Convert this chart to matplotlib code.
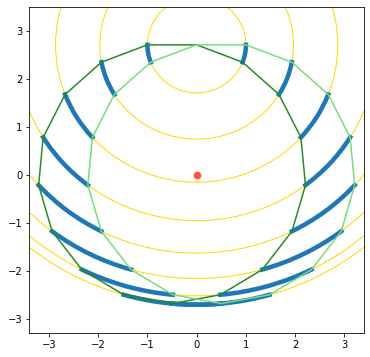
import matplotlib
matplotlib.use("Agg")
import matplotlib.pyplot as plt
from matplotlib.patches import Circle, Arc

# pivot (top vertex) of the 17-gon and the circles drawn around it
pivot = (0.0, 2.721)
ring_radii = [1.0, 1.966, 2.865, 3.666, 4.343, 4.872, 5.234, 5.419]

# polygon rolled one way (dark) and the other way (light)
dark_x = [0.0, 0.932, 1.672, 2.117, 2.210, 1.936, 1.333, 0.483, -0.500,
          -1.483, -2.333, -2.936, -3.209, -3.117, -2.672, -1.932, -1.000]
dark_y = [2.721, 2.360, 1.686, 0.791, -0.205, -1.167, -1.965, -2.491, -2.675,
          -2.491, -1.965, -1.167, -0.205, 0.791, 1.686, 2.360, 2.721]
light_x = [0.0, 1.000, 1.932, 2.672, 3.117, 3.209, 2.936, 2.333, 1.483,
           0.500, -0.483, -1.333, -1.936, -2.210, -2.117, -1.672, -0.932]
light_y = [2.721, 2.721, 2.360, 1.686, 0.791, -0.205, -1.167, -1.965, -2.491,
           -2.675, -2.491, -1.965, -1.167, -0.205, 0.791, 1.686, 2.360]

# paths of the vertices while rocking on the pivot (degrees)
arc_r = [1.0, 1.966, 2.865, 3.666, 4.343, 4.872, 5.234, 5.419,
         5.419, 5.234, 4.872, 4.343, 3.666, 2.865, 1.966, 1.0]
arc_t1 = [-21.18, -31.76, -42.35, -52.94, -63.53, -74.12, -84.71, -95.29,
          -105.88, -116.47, -127.06, -137.65, -148.24, -158.82, -169.41, -180.0]
arc_t2 = [0.0, -10.59, -21.18, -31.76, -42.35, -52.94, -63.53, -74.12,
          -84.71, -95.29, -105.88, -116.47, -127.06, -137.65, -148.24, -158.82]

center = (0.0, 0.0)

fig = plt.figure(figsize=(370 / 72, 357 / 72), dpi=72)
ax = fig.add_axes([0.079, 0.067, 0.905, 0.912])

for r in ring_radii:
    ax.add_patch(Circle(pivot, r, fill=False, color='gold', lw=1.0, zorder=1))

for r, t1, t2 in zip(arc_r, arc_t1, arc_t2):
    ax.add_patch(Arc(pivot, 2 * r, 2 * r, theta1=t1, theta2=t2,
                     color='#1f77b4', lw=4.5, capstyle='projecting', zorder=2))

ax.plot(dark_x + dark_x[:1], dark_y + dark_y[:1], color='forestgreen', lw=1.5, zorder=3)
ax.plot(light_x + light_x[:1], light_y + light_y[:1], color='#77dd77', lw=1.5, zorder=3)
ax.scatter([center[0]], [center[1]], color='#ff5733', s=45, zorder=4)

ax.set_xlim(-3.40, 3.40)
ax.set_ylim(-3.29, 3.50)
ax.set_xticks([-3, -2, -1, 0, 1, 2, 3])
ax.set_yticks([-3, -2, -1, 0, 1, 2, 3])

fig.savefig('out.png', dpi=72)
